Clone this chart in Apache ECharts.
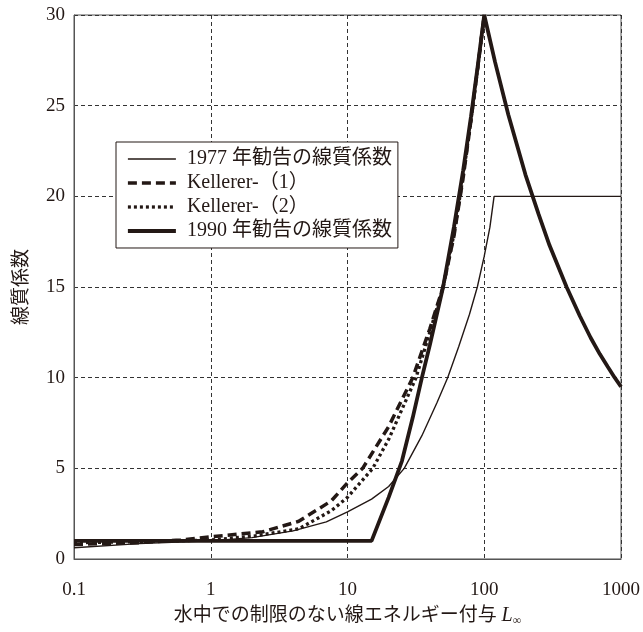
<!DOCTYPE html>
<html>
<head>
<meta charset="utf-8">
<script src="https://cdn.jsdelivr.net/npm/echarts@6/dist/echarts.min.js"></script>
<style>
  html, body { margin: 0; padding: 0; background: #fff; }
  #chart { width: 643px; height: 632px; }
</style>
</head>
<body>
<div id="chart"></div>
<script>
// 横軸: 水中での制限のない線エネルギー付与 L∞ (対数)
const xTicks = [0.1, 1, 10, 100, 1000]
const yTicks = [0, 5, 10, 15, 20, 25, 30]

const names = ['1977 年勧告の線質係数', 'Kellerer-（1）', 'Kellerer-（2）', '1990 年勧告の線質係数']

// 1977 年勧告
const q1977L = [0.1, 0.3, 1, 2, 4, 7, 10, 15, 20, 26, 35, 45, 54, 65, 78, 89, 100, 110, 118, 1000]
const q1977Q = [0.62, 0.85, 1.0, 1.18, 1.55, 2.05, 2.6, 3.3, 4.0, 5.0, 6.8, 8.6, 10, 11.7, 13.5, 15, 16.7, 18.3, 20, 20]

// Kellerer-(1)
const kel1L = [0.1, 0.3, 0.6, 1, 2.4, 4.4, 7.6, 10, 12.9, 20, 30, 40, 50, 60, 70, 80, 90, 100]
const kel1Q = [0.8, 0.9, 1.05, 1.22, 1.5, 2.08, 3.2, 4.2, 5.0, 7.3, 10, 12.7, 15, 17.8, 21, 24.2, 27.2, 30]

// Kellerer-(2)
const kel2L = [0.1, 0.3, 1, 2, 4.4, 7.6, 10, 15.3, 20, 31.7, 40, 50, 60, 70, 80, 90, 100]
const kel2Q = [0.9, 0.95, 1.05, 1.25, 1.66, 2.66, 3.4, 5.0, 6.6, 10, 12.5, 15, 17.9, 21.1, 24.2, 27.2, 30]

// 1990 年勧告
const q1990L = [0.1, 15, 20, 25, 30, 35, 40, 50, 60, 70, 80, 90, 100, 120, 150, 200, 250, 300, 400, 500, 600, 700, 800, 900, 1000]
const q1990Q = [1, 1, 3.4, 5.4, 7.8, 10, 11.8, 15, 18.3, 21.4, 24.4, 27.3, 30, 27.4, 24.5, 21.2, 19, 17.3, 15, 13.4, 12.2, 11.3, 10.6, 10, 9.5]

const ink = '#231815'
const serif = "'Liberation Serif', 'Noto Sans CJK JP', serif"
const zip = (a, b) => a.map((v, i) => [v, b[i]])

const styles = [
  { color: ink, width: 1.4 },
  { color: ink, width: 3.5, type: [9, 5] },
  { color: ink, width: 3.3, type: [3, 3] },
  { color: ink, width: 3.8 }
]

let chart = echarts.init(document.getElementById('chart'))

const option = {
  animation: false,
  backgroundColor: '#fff',
  grid: {
    left: 74, right: 18, top: 15, bottom: 67,
    show: true, borderColor: '#555', borderWidth: 1
  },
  legend: {
    orient: 'vertical',
    left: 116, top: 142,
    padding: [7, 6, 7, 10],
    itemGap: 4,
    itemWidth: 48, itemHeight: 14,
    backgroundColor: '#fff',
    borderColor: ink, borderWidth: 1,
    itemStyle: { opacity: 0 },
    textStyle: { fontFamily: serif, fontSize: 20, color: ink, padding: [0, 0, 0, 6] },
    data: names.map((n, i) => ({ name: n, lineStyle: styles[i] }))
  },
  xAxis: {
    type: 'log', logBase: 10, min: 0.1, max: 1000,
    name: '{a|水中での制限のない線エネルギー付与 }{i|L}{s|∞}',
    nameLocation: 'middle', nameGap: 46,
    nameTextStyle: {
      rich: {
        a: { fontFamily: serif, fontSize: 19, color: ink },
        i: { fontFamily: serif, fontSize: 20, fontStyle: 'italic', color: ink },
        s: { fontFamily: serif, fontSize: 12, color: ink, padding: [10, 0, 0, 0] }
      }
    },
    axisLine: { lineStyle: { color: '#555' } },
    axisTick: { show: false },
    axisLabel: {
      fontFamily: serif, fontSize: 19, color: ink, margin: 22,
      formatter: v => xTicks.find(t => Math.abs(t - v) / t < 1e-6) !== undefined ? String(+v.toPrecision(6)) : ''
    },
    splitLine: { show: true, lineStyle: { color: '#333', type: [4, 3], width: 1 } },
    minorTick: { show: false }
  },
  yAxis: {
    type: 'value', min: yTicks[0], max: yTicks[yTicks.length - 1], interval: 5,
    name: '線質係数',
    nameLocation: 'middle', nameGap: 42, nameRotate: 90,
    nameTextStyle: { fontFamily: serif, fontSize: 19, color: ink },
    axisLine: { show: true, lineStyle: { color: '#555' } },
    axisTick: { show: false },
    axisLabel: { fontFamily: serif, fontSize: 19, color: ink, margin: 9 },
    splitLine: { show: true, lineStyle: { color: '#333', type: [4, 3], width: 1 } }
  },
  series: names.map((n, i) => ({
    name: n, type: 'line', symbol: 'none', z: i === 3 ? 5 : (i === 0 ? 3 : 4),
    lineStyle: styles[i],
    itemStyle: { color: ink },
    data: [zip(q1977L, q1977Q), zip(kel1L, kel1Q), zip(kel2L, kel2Q), zip(q1990L, q1990Q)][i]
  }))
}

chart.setOption(option)
</script>
</body>
</html>
